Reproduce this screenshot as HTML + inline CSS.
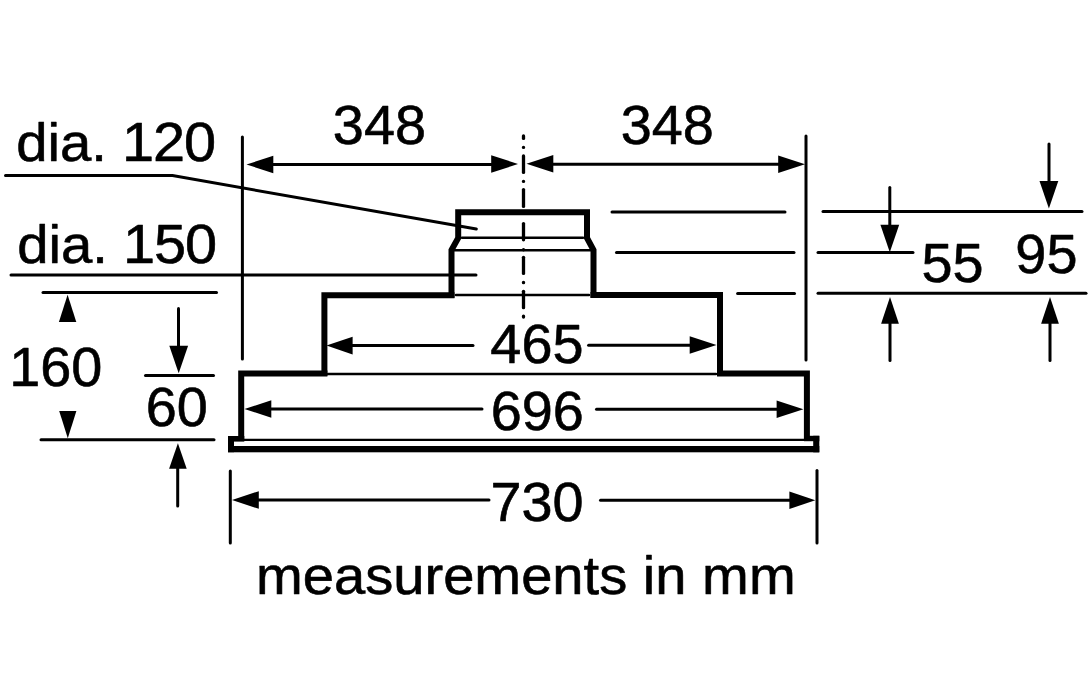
<!DOCTYPE html>
<html lang="en">
<head>
<meta charset="utf-8">
<title>measurements in mm</title>
<style>
html,body{margin:0;padding:0;background:#fff;}
body{width:1091px;height:700px;overflow:hidden;}
svg{display:block;}
svg text{font-family:"Liberation Sans",Arial,Helvetica,sans-serif;fill:#000;stroke:#000;stroke-width:0.6;stroke-linejoin:round;}
</style>
</head>
<body>
<svg width="1091" height="700" viewBox="0 0 1091 700" stroke="#000" fill="none" stroke-linecap="round">
<rect x="0" y="0" width="1091" height="700" fill="#fff" stroke="none"/>
<polyline points="5.5,175.6 172.5,175.6 476.3,229" stroke-width="3.0" fill="none"/>
<line x1="11.0" y1="275.0" x2="476.0" y2="275.0" stroke-width="3.0"/>
<line x1="242.4" y1="137.0" x2="242.4" y2="359.0" stroke-width="3.0"/>
<line x1="806.0" y1="136.0" x2="806.0" y2="360.0" stroke-width="3.0"/>
<line x1="261.0" y1="164.5" x2="504.0" y2="164.5" stroke-width="3.0"/>
<polygon points="246.5,164.5 273.3,155.7 273.3,173.3" fill="#000" stroke="none"/>
<polygon points="518.0,164 491.2,155.2 491.2,172.8" fill="#000" stroke="none"/>
<line x1="541.0" y1="164.3" x2="789.0" y2="164.3" stroke-width="3.0"/>
<polygon points="526.5,163.7 553.3,154.9 553.3,172.5" fill="#000" stroke="none"/>
<polygon points="805.0,164.3 778.2,155.5 778.2,173.1" fill="#000" stroke="none"/>
<line x1="523.5" y1="135.9" x2="523.5" y2="138.4" stroke-width="3.3" stroke-linecap="round"/>
<line x1="523.5" y1="147.3" x2="523.5" y2="147.4" stroke-width="3.3" stroke-linecap="round"/>
<line x1="523.5" y1="155.9" x2="523.5" y2="172.4" stroke-width="3.3" stroke-linecap="round"/>
<line x1="523.5" y1="181.3" x2="523.5" y2="181.4" stroke-width="3.3" stroke-linecap="round"/>
<line x1="523.5" y1="189.6" x2="523.5" y2="206.4" stroke-width="3.3" stroke-linecap="round"/>
<line x1="523.5" y1="223.6" x2="523.5" y2="239.8" stroke-width="3.3" stroke-linecap="round"/>
<line x1="523.5" y1="249.6" x2="523.5" y2="249.8" stroke-width="3.3" stroke-linecap="round"/>
<line x1="523.5" y1="257.3" x2="523.5" y2="273.4" stroke-width="3.3" stroke-linecap="round"/>
<line x1="523.5" y1="282.3" x2="523.5" y2="282.7" stroke-width="3.3" stroke-linecap="round"/>
<line x1="523.5" y1="291.3" x2="523.5" y2="307.7" stroke-width="3.3" stroke-linecap="round"/>
<line x1="523.5" y1="316.2" x2="523.5" y2="317.0" stroke-width="3.3" stroke-linecap="round"/>
<line x1="612.0" y1="212.0" x2="785.0" y2="212.0" stroke-width="3.0"/>
<line x1="616.5" y1="252.5" x2="794.0" y2="252.5" stroke-width="3.0"/>
<line x1="737.6" y1="293.5" x2="794.5" y2="293.5" stroke-width="3.0"/>
<line x1="823.0" y1="211.5" x2="1082.0" y2="211.5" stroke-width="3.0"/>
<line x1="818.0" y1="252.5" x2="913.0" y2="252.5" stroke-width="3.0"/>
<line x1="818.0" y1="293.3" x2="1086.0" y2="293.3" stroke-width="3.0"/>
<line x1="889.8" y1="187.5" x2="889.8" y2="229.0" stroke-width="3.0"/>
<polygon points="889.8,252.3 880.4,224.8 899.2,224.8" fill="#000" stroke="none"/>
<line x1="890.0" y1="319.0" x2="890.0" y2="360.5" stroke-width="3.0"/>
<polygon points="890,297.0 881.1,323.8 898.9,323.8" fill="#000" stroke="none"/>
<line x1="1049.0" y1="144.0" x2="1049.0" y2="185.0" stroke-width="3.0"/>
<polygon points="1048.9,208.5 1039.5,181.0 1058.3,181.0" fill="#000" stroke="none"/>
<line x1="1050.0" y1="319.0" x2="1050.0" y2="360.5" stroke-width="3.0"/>
<polygon points="1050,297.0 1041.1,323.8 1058.9,323.8" fill="#000" stroke="none"/>
<line x1="43.0" y1="292.5" x2="216.5" y2="292.5" stroke-width="3.0"/>
<line x1="145.5" y1="375.4" x2="213.5" y2="375.4" stroke-width="3.0"/>
<line x1="41.0" y1="439.7" x2="214.0" y2="439.7" stroke-width="3.0"/>
<polygon points="67.6,294.8 58.9,322.0 76.3,322.0" fill="#000" stroke="none"/>
<polygon points="67.8,438.3 59.2,410.9 76.4,410.9" fill="#000" stroke="none"/>
<line x1="178.5" y1="308.5" x2="178.5" y2="349.0" stroke-width="3.0"/>
<polygon points="178.7,373.3 169.3,345.8 188.1,345.8" fill="#000" stroke="none"/>
<line x1="177.7" y1="463.0" x2="177.7" y2="506.0" stroke-width="3.0"/>
<polygon points="177.9,443.2 169.1,468.8 186.7,468.8" fill="#000" stroke="none"/>
<line x1="346.0" y1="345.6" x2="473.0" y2="345.6" stroke-width="3.0"/>
<polygon points="326.5,345.6 352.6,336.8 352.6,354.4" fill="#000" stroke="none"/>
<line x1="588.6" y1="345.3" x2="699.0" y2="345.3" stroke-width="3.0"/>
<polygon points="716.5,345 689.7,336.2 689.7,353.8" fill="#000" stroke="none"/>
<line x1="263.0" y1="409.0" x2="482.0" y2="409.0" stroke-width="3.0"/>
<polygon points="244.5,409 271.3,400.2 271.3,417.8" fill="#000" stroke="none"/>
<line x1="596.5" y1="409.2" x2="784.0" y2="409.2" stroke-width="3.0"/>
<polygon points="803.4,409.2 776.6,400.4 776.6,418.0" fill="#000" stroke="none"/>
<line x1="251.0" y1="500.0" x2="489.0" y2="500.0" stroke-width="3.0"/>
<polygon points="232.0,500 258.8,491.2 258.8,508.8" fill="#000" stroke="none"/>
<line x1="600.5" y1="500.2" x2="799.0" y2="500.2" stroke-width="3.0"/>
<polygon points="815.3,500.2 789.4,491.4 789.4,509.0" fill="#000" stroke="none"/>
<line x1="230.3" y1="471.0" x2="230.3" y2="543.0" stroke-width="3.0"/>
<line x1="817.0" y1="470.5" x2="817.0" y2="543.0" stroke-width="3.0"/>
<line x1="456.0" y1="295.0" x2="589.0" y2="295.0" stroke-width="2.5"/>
<line x1="328.0" y1="374.0" x2="716.0" y2="374.0" stroke-width="2.5"/>
<line x1="241.0" y1="439.9" x2="805.0" y2="439.9" stroke-width="2.4"/>
<line x1="462.0" y1="237.8" x2="583.0" y2="237.8" stroke-width="2.5"/>
<line x1="452.0" y1="250.3" x2="593.0" y2="250.3" stroke-width="2.5"/>
<polyline points="451.5,297.8 451.5,250 458.2,238 458.2,212.3 587,212.3 587,238 593.5,250 593.5,297.8" stroke-width="6" fill="none" stroke-linecap="butt"/>
<polyline points="324.4,376 324.4,295.2 454.5,295.2" stroke-width="6" fill="none" stroke-linecap="butt"/>
<polyline points="590.5,295 720,295 720,376" stroke-width="6" fill="none" stroke-linecap="butt"/>
<polyline points="241.2,441 241.2,373.4 327.4,373.4" stroke-width="6" fill="none" stroke-linecap="butt"/>
<polyline points="717,373.4 806.9,373.4 806.9,441" stroke-width="6" fill="none" stroke-linecap="butt"/>
<rect x="228" y="436" width="16.3" height="5.6" fill="#000" stroke="none"/>
<rect x="228" y="436" width="6" height="16.2" fill="#000" stroke="none"/>
<rect x="228" y="446" width="591.3" height="6.3" fill="#000" stroke="none"/>
<rect x="813.2" y="435.8" width="6.1" height="16.5" fill="#000" stroke="none"/>
<rect x="804" y="435.8" width="15.3" height="5.4" fill="#000" stroke="none"/>
<text transform="translate(16.2 160.5) scale(1.03 0.985)" font-size="54.6" text-anchor="start">dia. <tspan font-size="56" letter-spacing="-1" dx="-0.5">120</tspan></text>
<text transform="translate(17.2 263.4) scale(1.03 0.985)" font-size="54.6" text-anchor="start">dia. <tspan font-size="56" letter-spacing="-1" dx="-0.5">150</tspan></text>
<text transform="translate(379.4 143.7) scale(0.997 1.006)" font-size="56" text-anchor="middle">348</text>
<text transform="translate(667.3 144.4) scale(0.997 1.006)" font-size="56" text-anchor="middle">348</text>
<text transform="translate(952.6 282) scale(0.997 1.006)" font-size="56" text-anchor="middle">55</text>
<text transform="translate(1046.4 273) scale(0.997 1.006)" font-size="56" text-anchor="middle">95</text>
<text transform="translate(55.8 386) scale(0.997 1.006)" font-size="56" text-anchor="middle">160</text>
<text transform="translate(176.8 426) scale(0.997 1.006)" font-size="56" text-anchor="middle">60</text>
<text transform="translate(536.9 362.8) scale(0.997 1.006)" font-size="56" text-anchor="middle">465</text>
<text transform="translate(537.2 429.9) scale(0.997 1.006)" font-size="56" text-anchor="middle">696</text>
<text transform="translate(537.1 521) scale(0.997 1.006)" font-size="56" text-anchor="middle">730</text>
<text transform="translate(525.8 594.4) scale(1.021 0.985)" font-size="55" text-anchor="middle">measurements in mm</text>
</svg>
</body>
</html>
